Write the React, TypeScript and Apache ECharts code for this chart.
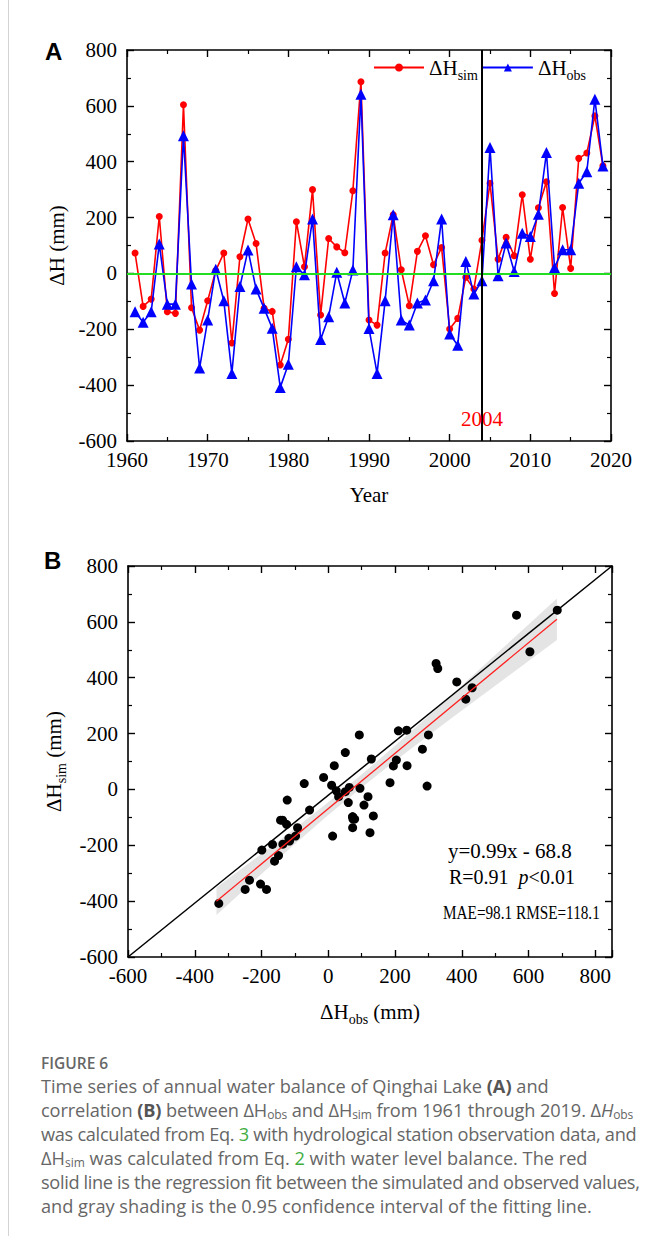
import React, { useEffect, useRef } from 'react';
import * as echarts from 'echarts';

// ---------- data ----------
const years = [
  1961, 1962, 1963, 1964, 1965, 1966, 1967, 1968, 1969, 1970,
  1971, 1972, 1973, 1974, 1975, 1976, 1977, 1978, 1979, 1980,
  1981, 1982, 1983, 1984, 1985, 1986, 1987, 1988, 1989, 1990,
  1991, 1992, 1993, 1994, 1995, 1996, 1997, 1998, 1999, 2000,
  2001, 2002, 2003, 2004, 2005, 2006, 2007, 2008, 2009, 2010,
  2011, 2012, 2013, 2014, 2015, 2016, 2017, 2018, 2019,
];
const simValues = [
  73, -118, -92, 204, -137, -143, 604, -123, -203, -98,
  10, 73, -249, 60, 195, 107, -125, -136, -328, -236,
  185, 24, 300, -149, 125, 95, 74, 296, 686, -167,
  -185, 73, 210, 13, -116, 79, 135, 31, 93, -199,
  -161, -14, -56, 119, 323, 51, 129, 63, 282, 51,
  235, 328, -72, 236, 18, 412, 431, 564, 385,
];
const obsValues = [
  -137, -175, -137, 105, -110, -110, 493, -38, -339, -167,
  15, -98, -358, -47, 84, -56, -125, -196, -408, -325,
  24, -5, 195, -237, -155, 4, -106, 12, 642, -197,
  -358, -98, 210, -167, -185, -106, -95, -26, 195, -217,
  -257, 43, -74, -26, 451, -8, 109, 7, 144, 132,
  212, 433, 21, 85, 85, 323, 364, 624, 385,
];
const splitYear = 2004;

// regression (from the panel text) and its 0.95 confidence band
const fitSlope = 0.99;
const fitIntercept = -68.8;
const fitRangeX = [-335, 685];
const bandX = [-335, -200, -100, 0, 100, 200, 300, 400, 500, 600, 685];
const bandHalfWidth = [49, 36, 28, 23, 23, 27, 35, 45, 55, 65, 74];
const diagonalLine = [[-600, -600], [850, 800]];

const yTicksA = { min: -600, max: 800, interval: 200 };
const xTicksA = { min: 1960, max: 2020, interval: 10 };
const xTicksB = { min: -600, max: 850, interval: 200 };
const yTicksB = { min: -600, max: 800, interval: 200 };

const statLines = ['y=0.99x - 68.8', 'R=0.91  {i|p}<0.01', 'MAE=98.1 RMSE=118.1'];

// ---------- styles ----------
const SERIF = '"Liberation Serif", "Times New Roman", serif';
const SANS = '"Liberation Sans", Arial, sans-serif';
const CAPTION_FONT = '"Open Sans", "Noto Sans", sans-serif';
const TICK_FONT = 21;

const subRich = {
  sub: { fontSize: 14, fontFamily: SERIF, color: '#000', padding: [15, 0, 0, 0] },
};

function axisBase(extra: any) {
  return {
    type: 'value',
    axisLine: { show: true, onZero: false, lineStyle: { color: '#000', width: 1.6 } },
    axisTick: { show: true, inside: true, length: 7, lineStyle: { color: '#000', width: 1.4 } },
    minorTick: { show: true, splitNumber: 2, length: 4, lineStyle: { color: '#000', width: 1.2 } },
    splitLine: { show: false },
    minorSplitLine: { show: false },
    axisLabel: { fontFamily: SERIF, fontSize: TICK_FONT, color: '#000', margin: 8 },
    ...extra,
  };
}
function mirror(extra: any) {
  return axisBase({ axisLabel: { show: false }, ...extra });
}

function buildOption() {
  const simData = years.map((y, i) => [y, simValues[i]]);
  const obsData = years.map((y, i) => [y, obsValues[i]]);
  const scatterData = years.map((_, i) => [simValues[i], obsValues[i]]);
  const fitData = fitRangeX.map((x) => [x, fitSlope * x + fitIntercept]);

  return {
    animation: false,
    backgroundColor: 'transparent',
    grid: [
      { left: 127, top: 50, width: 484, height: 391 },
      { left: 128, top: 566, width: 484, height: 391 },
    ],
    legend: {
      show: true,
      left: 373,
      top: 57,
      padding: 0,
      itemWidth: 50,
      itemHeight: 10,
      itemGap: 4,
      data: ['sim', 'obs'],
      formatter: (name: string) => `ΔH{sub|${name}}`,
      textStyle: { fontFamily: SERIF, fontSize: 21, color: '#000', padding: [0, 0, 0, 0], rich: subRich },
    },
    xAxis: [
      axisBase({
        gridIndex: 0, position: 'bottom', ...xTicksA,
        name: 'Year', nameLocation: 'middle', nameGap: 43,
        nameTextStyle: { fontFamily: SERIF, fontSize: 21, color: '#000' },
        axisLabel: { fontFamily: SERIF, fontSize: TICK_FONT, color: '#000', margin: 8, formatter: (v: number) => String(v) },
      }),
      mirror({ gridIndex: 0, position: 'top', ...xTicksA }),
      axisBase({
        gridIndex: 1, position: 'bottom', ...xTicksB,
        name: 'ΔH{sub|obs} (mm)', nameLocation: 'middle', nameGap: 40,
        nameTextStyle: { fontFamily: SERIF, fontSize: 21, color: '#000', rich: subRich },
        axisLabel: { fontFamily: SERIF, fontSize: TICK_FONT, color: '#000', margin: 8, showMaxLabel: false },
      }),
      mirror({ gridIndex: 1, position: 'top', ...xTicksB }),
    ],
    yAxis: [
      axisBase({
        gridIndex: 0, position: 'left', ...yTicksA,
        name: 'ΔH (mm)', nameLocation: 'middle', nameGap: 54,
        nameTextStyle: { fontFamily: SERIF, fontSize: 21, color: '#000' },
        axisLabel: { fontFamily: SERIF, fontSize: TICK_FONT, color: '#000', margin: 10 },
      }),
      mirror({ gridIndex: 0, position: 'right', ...yTicksA }),
      axisBase({
        gridIndex: 1, position: 'left', ...yTicksB,
        name: 'ΔH{sub|sim} (mm)', nameLocation: 'middle', nameGap: 50,
        nameTextStyle: { fontFamily: SERIF, fontSize: 21, color: '#000', rich: subRich },
        axisLabel: { fontFamily: SERIF, fontSize: TICK_FONT, color: '#000', margin: 10 },
      }),
      mirror({ gridIndex: 1, position: 'right', ...yTicksB }),
    ],
    graphic: [
      { type: 'text', left: 45, top: 39, style: { text: 'A', font: `bold 24px ${SANS}`, fill: '#000' } },
      { type: 'text', left: 44, top: 548, style: { text: 'B', font: `bold 24px ${SANS}`, fill: '#000' } },
      {
        type: 'text', x: 448, y: 851,
        style: { text: statLines[0], fontFamily: SERIF, fontSize: 21, fill: '#000', verticalAlign: 'middle' },
      },
      {
        type: 'text', x: 449, y: 877,
        style: {
          text: statLines[1], fontFamily: SERIF, fontSize: 20, fill: '#000', verticalAlign: 'middle',
          rich: { i: { fontFamily: SERIF, fontSize: 20, fontStyle: 'italic', fill: '#000' } },
        },
      },
      {
        type: 'text', x: 443, y: 913, scaleX: 0.82,
        style: { text: statLines[2], fontFamily: SERIF, fontSize: 18.6, fill: '#000', verticalAlign: 'middle' },
      },
    ],
    series: [
      {
        name: 'sim', type: 'line', xAxisIndex: 0, yAxisIndex: 0, data: simData,
        color: '#ff0000', symbol: 'circle', symbolSize: 7, showSymbol: true,
        lineStyle: { color: '#ff0000', width: 1.6 }, itemStyle: { color: '#ff0000' },
        z: 3,
        markLine: {
          silent: true, symbol: 'none', animation: false, label: { show: false },
          data: [
            { yAxis: 0, lineStyle: { color: '#22dd22', width: 2.2, type: 'solid' } },
            { xAxis: splitYear, lineStyle: { color: '#000', width: 2, type: 'solid' } },
          ],
        },
      },
      {
        name: 'obs', type: 'line', xAxisIndex: 0, yAxisIndex: 0, data: obsData,
        color: '#0000ff', symbol: 'triangle', symbolSize: 11, showSymbol: true,
        lineStyle: { color: '#0000ff', width: 1.6 }, itemStyle: { color: '#0000ff' },
        z: 4,
        markPoint: {
          silent: true, symbol: 'circle', symbolSize: 0, animation: false,
          label: { show: true, position: 'inside', formatter: String(splitYear), color: '#ff0000', fontFamily: SERIF, fontSize: 21 },
          data: [{ coord: [splitYear, -523] }],
        },
      },
      {
        name: 'band', type: 'custom', xAxisIndex: 2, yAxisIndex: 2, silent: true, z: 1,
        data: [[0, 0]],
        renderItem: (_params: any, api: any) => {
          const upper = bandX.map((x, i) => api.coord([x, fitSlope * x + fitIntercept + bandHalfWidth[i]]));
          const lower = bandX.map((x, i) => api.coord([x, fitSlope * x + fitIntercept - bandHalfWidth[i]])).reverse();
          return { type: 'polygon', shape: { points: upper.concat(lower) }, style: { fill: '#e4e4e4', stroke: 'none' } };
        },
      },
      {
        name: 'diag', type: 'line', xAxisIndex: 2, yAxisIndex: 2, data: diagonalLine,
        symbol: 'none', lineStyle: { color: '#000', width: 1.5 }, silent: true, z: 2,
      },
      {
        name: 'scatter', type: 'scatter', xAxisIndex: 2, yAxisIndex: 2, data: scatterData,
        symbol: 'circle', symbolSize: 9, itemStyle: { color: '#000', opacity: 1 }, z: 3,
      },
      {
        name: 'fit', type: 'line', xAxisIndex: 2, yAxisIndex: 2, data: fitData,
        symbol: 'none', lineStyle: { color: '#ff2020', width: 1.3 }, silent: true, z: 4,
      },
    ],
  };
}

const captionLine = (ls: number): React.CSSProperties => ({
  whiteSpace: 'nowrap', height: 24, lineHeight: '24px', letterSpacing: `${ls}px`,
});
const subStyle: React.CSSProperties = { fontSize: '0.66em', position: 'relative', top: '0.16em', lineHeight: 0 };
const boldStyle: React.CSSProperties = { fontWeight: 700, color: '#555' };
const linkStyle: React.CSSProperties = { color: '#3fae3f' };

function Sub({ children }: { children: React.ReactNode }) {
  return <span style={subStyle}>{children}</span>;
}

export default function App() {
  const ref = useRef<HTMLDivElement>(null);
  useEffect(() => {
    if (!ref.current) return;
    const chart = echarts.init(ref.current, null, { renderer: 'svg' });
    chart.setOption(buildOption() as any);
    return () => chart.dispose();
  }, []);

  return (
    <div style={{ position: 'absolute', left: 0, top: 0, width: 662, height: 1236, background: '#fff', overflow: 'hidden' }}>
      <div style={{ position: 'absolute', left: 8, top: 0, width: 1, height: 1236, background: '#d4d4d4' }} />
      <div ref={ref} style={{ position: 'absolute', left: 0, top: 0, width: 662, height: 1040 }} />
      <div style={{ position: 'absolute', left: 41, top: 1052, fontFamily: CAPTION_FONT, color: '#666', fontSize: 18.2 }}>
        <div style={{ fontWeight: 600, fontSize: 15.5, height: 22, lineHeight: '22px', color: '#666' }}>FIGURE 6</div>
        <div style={captionLine(0)}>
          Time series of annual water balance of Qinghai Lake <span style={boldStyle}>(A)</span> and
        </div>
        <div style={captionLine(-0.1)}>
          correlation <span style={boldStyle}>(B)</span> between ΔH<Sub>obs</Sub> and ΔH<Sub>sim</Sub> from 1961 through 2019. Δ<i>H</i><Sub>obs</Sub>
        </div>
        <div style={captionLine(-0.3)}>
          was calculated from Eq. <span style={linkStyle}>3</span> with hydrological station observation data, and
        </div>
        <div style={captionLine(0)}>
          ΔH<Sub>sim</Sub> was calculated from Eq. <span style={linkStyle}>2</span> with water level balance. The red
        </div>
        <div style={captionLine(-0.35)}>
          solid line is the regression fit between the simulated and observed values,
        </div>
        <div style={captionLine(0)}>
          and gray shading is the 0.95 confidence interval of the fitting line.
        </div>
      </div>
    </div>
  );
}
